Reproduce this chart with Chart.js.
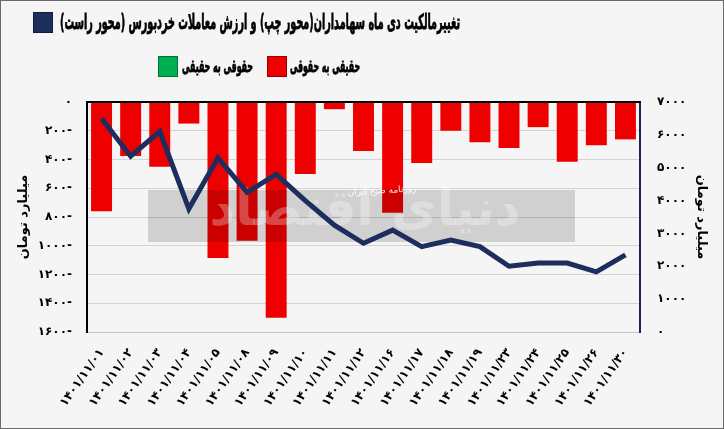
<!DOCTYPE html>
<html>
<head>
<meta charset="utf-8">
<script src="https://cdn.jsdelivr.net/npm/chart.js@4.4.1/dist/chart.umd.min.js"></script>
<style>
  html, body { margin: 0; padding: 0; background: #f5f5f5; }
  #wrap { position: relative; width: 724px; height: 429px; background: #f5f5f5; overflow: hidden; }
  #chart { position: absolute; left: 0; top: 0; }
  #frame { position: absolute; left: 0; top: 0; width: 724px; height: 429px; box-sizing: border-box; border: 1px solid #6a6a6a; pointer-events: none; }
  .box { position: absolute; width: 20px; height: 21px; box-sizing: border-box; border: 1px solid rgba(0,0,0,0.35); }
  .txt { position: absolute; direction: rtl; font-family: "DejaVu Sans"; font-weight: bold; color: #000; white-space: nowrap; transform-origin: 0 50%; line-height: 1; -webkit-text-stroke: 0.8px #000; }
</style>
</head>
<body>
<div id="wrap">
  <canvas id="chart" width="724" height="429"></canvas>
  <div id="frame"></div>
</div>
<script>
// dates (Persian calendar), left axis: ownership change, right axis: retail trade value
const dates = ['۱۴۰۱/۱۱/۰۱', '۱۴۰۱/۱۱/۰۲', '۱۴۰۱/۱۱/۰۳', '۱۴۰۱/۱۱/۰۴', '۱۴۰۱/۱۱/۰۵', '۱۴۰۱/۱۱/۰۸',
  '۱۴۰۱/۱۱/۰۹', '۱۴۰۱/۱۱/۱۰', '۱۴۰۱/۱۱/۱۱', '۱۴۰۱/۱۱/۱۲', '۱۴۰۱/۱۱/۱۶', '۱۴۰۱/۱۱/۱۷',
  '۱۴۰۱/۱۱/۱۸', '۱۴۰۱/۱۱/۱۹', '۱۴۰۱/۱۱/۲۳', '۱۴۰۱/۱۱/۲۴', '۱۴۰۱/۱۱/۲۵', '۱۴۰۱/۱۱/۲۶', '۱۴۰۱/۱۱/۳۰'];
const realToLegal = [-760, -375, -450, -150, -1085, -965, -1500, -500, -50, -340, -770, -425, -200, -280, -320, -175, -415, -300, -260];
const legalToReal = [0, 0, 0, 0, 0, 0, 0, 0, 0, 0, 0, 0, 0, 0, 0, 0, 0, 0, 0];
const retailValue = [6500, 5350, 6100, 3750, 5300, 4250, 4800, 4000, 3250, 2700, 3100, 2600, 2800, 2600, 2000, 2100, 2100, 1830, 2350];
const leftTicks = [0, -200, -400, -600, -800, -1000, -1200, -1400, -1600];
const rightTicks = [0, 1000, 2000, 3000, 4000, 5000, 6000, 7000];

const lineName = 'تغییرمالکیت دی ماه سهامداران(محور چپ) و ارزش معاملات خردبورس (محور راست)';
const redName = 'حقیقی به حقوقی';
const greenName = 'حقوقی به حقیقی';
const navy = '#1c2d5e';
const red = '#ee0000';
const green = '#00b050';
const axisTitle = 'میلیارد تومان';

const fa = n => String(n).replace(/\d/g, d => '۰۱۲۳۴۵۶۷۸۹'[d]);
const tickFont = { family: 'DejaVu Sans', weight: 'bold', size: 12 };

// html legend placed like the original (two rows, box on the left of its text)
const wrap = document.getElementById('wrap');
function legendItem(color, text, bx, by, tx, tw, size) {
    const b = document.createElement('div');
    b.className = 'box';
    b.style.background = color;
    b.style.left = bx + 'px';
    b.style.top = by + 'px';
    wrap.appendChild(b);
    const t = document.createElement('span');
    t.className = 'txt';
    t.textContent = text;
    t.style.fontSize = size + 'px';
    t.style.left = tx + 'px';
    wrap.appendChild(t);
    const w = t.getBoundingClientRect().width;
    const h = t.getBoundingClientRect().height;
    t.style.top = (by + 10.5 - h / 2) + 'px';
    t.style.transform = 'scaleX(' + (tw / w) + ')';
}
legendItem(navy, lineName, 33, 12, 60, 400, 21);
legendItem(green, greenName, 158, 56, 182, 71, 17);
legendItem(red, redName, 267, 56, 290, 70, 17);

const watermark = {
    id: 'watermark',
    beforeDatasetDraw(chart, args) {
        if (args.index !== 0) return;
        const ctx = chart.ctx;
        ctx.save();
        ctx.fillStyle = 'rgba(0,0,0,0.15)';
        ctx.fillRect(148, 190, 427, 52);
        ctx.fillStyle = 'rgba(255,255,255,0.28)';
        ctx.font = 'bold 50px "DejaVu Sans"';
        ctx.textAlign = 'center';
        ctx.textBaseline = 'middle';
        ctx.fillText('دنیای اقتصاد', 365, 212);
        ctx.translate(382, 191);
        ctx.rotate(-0.06);
        ctx.font = '9px "DejaVu Sans"';
        ctx.fillStyle = 'rgba(255,255,255,0.9)';
        ctx.fillText('روزنامه صبح ایران', 0, 0);
        ctx.restore();
    },
    afterDatasetsDraw(chart) {
        const a = chart.chartArea;
        const ctx = chart.ctx;
        ctx.save();
        ctx.strokeStyle = '#000';
        ctx.lineWidth = 2;
        ctx.beginPath();
        ctx.moveTo(a.left - 1, a.top);
        ctx.lineTo(a.right + 1, a.top);
        ctx.stroke();
        ctx.restore();
    }
};

new Chart(document.getElementById('chart'), {
    data: {
        labels: dates,
        datasets: [{
            type: 'line',
            label: lineName,
            data: retailValue,
            yAxisID: 'y2',
            borderColor: navy,
            borderWidth: 5,
            pointRadius: 0,
            tension: 0,
            fill: false
        }, {
            type: 'bar',
            label: redName,
            data: realToLegal,
            yAxisID: 'y',
            backgroundColor: red,
            barPercentage: 0.72,
            categoryPercentage: 1
        }, {
            type: 'bar',
            label: greenName,
            data: legalToReal,
            yAxisID: 'y',
            backgroundColor: green,
            barPercentage: 0.72,
            categoryPercentage: 1
        }]
    },
    options: {
        responsive: false,
        animation: false,
        devicePixelRatio: 1,
        layout: { padding: { top: 102, left: 0, right: 0, bottom: 0 } },
        plugins: {
            legend: { display: false },
            tooltip: { enabled: false }
        },
        scales: {
            x: {
                stacked: true,
                grid: { display: false },
                border: { color: '#c8c8c8' },
                ticks: {
                    autoSkip: false,
                    minRotation: 55,
                    maxRotation: 55,
                    padding: 6,
                    color: '#000',
                    font: tickFont
                },
                afterFit(s) { s.height = 97; }
            },
            y: {
                position: 'left',
                stacked: true,
                min: -1600,
                max: 0,
                afterBuildTicks(s) { s.ticks = leftTicks.map(v => ({ value: v })); },
                ticks: {
                    padding: 15,
                    color: '#000',
                    font: tickFont,
                    callback: v => v === 0 ? '۰' : fa(-v) + '-'
                },
                grid: { color: '#d4d4d4', drawTicks: false },
                border: { color: '#000', width: 2 },
                title: { display: true, text: axisTitle, color: '#000', font: { family: 'DejaVu Sans', weight: 'bold', size: 13 }, padding: { top: 16 } },
                afterFit(s) { s.width = 87; }
            },
            y2: {
                position: 'right',
                min: 0,
                max: 7000,
                afterBuildTicks(s) { s.ticks = rightTicks.map(v => ({ value: v })); },
                ticks: {
                    padding: 17,
                    color: '#000',
                    font: tickFont,
                    callback: v => fa(v)
                },
                grid: { display: false, drawTicks: false },
                border: { color: '#1c2550', width: 2 },
                title: { display: true, text: axisTitle, color: '#000', font: { family: 'DejaVu Sans', weight: 'bold', size: 13 }, padding: { top: 15 } },
                afterFit(s) { s.width = 84; }
            }
        }
    },
    plugins: [watermark]
});
</script>
</body>
</html>
